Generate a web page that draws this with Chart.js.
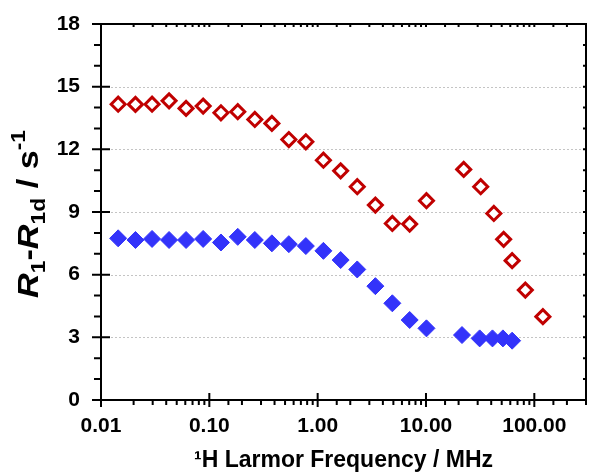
<!DOCTYPE html>
<html><head><meta charset="utf-8">
<script src="https://cdn.jsdelivr.net/npm/chart.js@4.4.0/dist/chart.umd.min.js"></script>
<style>html,body{margin:0;padding:0;background:#fff}#wrap{width:596px;height:474px}</style>
</head><body><div id="wrap"><canvas id="c" width="596" height="474"></canvas></div>
<script>
// Data
const freqRed = [0.0144,0.0208,0.0296,0.0425,0.061,0.0877,0.128,0.183,0.263,0.378,0.542,0.778,1.13,1.63,2.32,3.41,4.89,7.07,10.1,22.3,32,42.3,52.1,62.4,82.6,120];
const r1Red   = [14.16,14.15,14.16,14.32,13.96,14.07,13.75,13.8,13.43,13.24,12.47,12.36,11.48,10.97,10.21,9.33,8.45,8.42,9.54,11.04,10.21,8.93,7.69,6.67,5.26,3.99];
const freqBlue = [0.0144,0.0208,0.0296,0.0425,0.061,0.0877,0.128,0.183,0.263,0.378,0.542,0.778,1.13,1.63,2.32,3.41,4.89,7.07,10.1,21.5,31.3,41.1,51.3,62.4];
const r1Blue   = [7.74,7.66,7.71,7.66,7.66,7.71,7.54,7.81,7.66,7.50,7.46,7.37,7.14,6.70,6.25,5.45,4.63,3.83,3.43,3.11,2.95,2.95,2.95,2.84];
const xTickLabels = ['0.01','0.10','1.00','10.00','100.00'];
const yTickLabels = ['0','3','6','9','12','15','18'];
const xTitle = '\u00B9H Larmor Frequency / MHz';

const FONT = '"Liberation Sans", Arial, sans-serif';

function isMajorLog(v){ const l=Math.log10(v); return Math.abs(l-Math.round(l))<1e-6; }

const framePlugin = {
  id:'frame',
  beforeDatasetsDraw(chart){
    const {ctx, chartArea:a, scales:{y}} = chart;
    ctx.save();
    ctx.strokeStyle='#c4c4c4'; ctx.lineWidth=1; ctx.setLineDash([2,2]);
    y.ticks.forEach(t=>{
      if (t.value%3===0 && t.value>0 && t.value<18){
        const py=Math.round(y.getPixelForValue(t.value))+0.5;
        ctx.beginPath(); ctx.moveTo(a.left+10,py); ctx.lineTo(a.right-2,py); ctx.stroke();
      }
    });
    ctx.restore();
  },
  afterDatasetsDraw(chart){
    const {ctx, chartArea:a, scales:{x,y}} = chart;
    ctx.save();
    ctx.strokeStyle='#000'; ctx.lineWidth=2; ctx.setLineDash([]);
    ctx.beginPath();
    ctx.rect(a.left, a.top, a.right-a.left, a.bottom-a.top);
    ctx.stroke();
    ctx.beginPath();
    y.ticks.forEach(t=>{
      const py=y.getPixelForValue(t.value);
      if (t.value%3===0){ ctx.moveTo(a.left-9,py); ctx.lineTo(a.left+9,py); }
      else { ctx.moveTo(a.left-7,py); ctx.lineTo(a.left,py); }
      ctx.moveTo(a.right,py); ctx.lineTo(a.right-3,py);
    });
    x.ticks.forEach(t=>{
      const px=x.getPixelForValue(t.value);
      if (isMajorLog(t.value)){ ctx.moveTo(px,a.bottom-7); ctx.lineTo(px,a.bottom+7); }
      else { ctx.moveTo(px,a.bottom); ctx.lineTo(px,a.bottom+5); }
      ctx.moveTo(px,a.top); ctx.lineTo(px,a.top+3);
    });
    ctx.stroke();
    ctx.restore();
  },
  afterDraw(chart){
    const {ctx} = chart;
    const segs = [
      {t:'R', f:'italic bold 30px', dy:0},
      {t:'1', f:'bold 20px', dy:7},
      {t:'-', f:'bold 30px', dy:0},
      {t:'R', f:'italic bold 30px', dy:0},
      {t:'1d', f:'bold 20px', dy:7},
      {t:' / s', f:'bold 30px', dy:0},
      {t:'-1', f:'bold 20px', dy:-13}
    ];
    ctx.save();
    let total=0;
    segs.forEach(s=>{ ctx.font=s.f+' '+FONT; s.w=ctx.measureText(s.t).width; total+=s.w; });
    const cy=214, cx=38;
    ctx.translate(cx,cy); ctx.rotate(-Math.PI/2); ctx.scale(1.14,1);
    ctx.fillStyle='#000'; ctx.textBaseline='alphabetic'; ctx.textAlign='left';
    let xx=-total/2;
    segs.forEach(s=>{ ctx.font=s.f+' '+FONT; ctx.fillText(s.t,xx,s.dy); xx+=s.w; });
    ctx.restore();
  }
};

new Chart(document.getElementById('c'), {
  type:'scatter',
  data:{
    datasets:[
      {label:'blue', data:freqBlue.map((f,i)=>({x:f,y:r1Blue[i]})), pointStyle:'rectRot', pointRadius:8.5, backgroundColor:'#3333FA', borderColor:'#3333FA', borderWidth:1},
      {label:'red', data:freqRed.map((f,i)=>({x:f,y:r1Red[i]})), pointStyle:'rectRot', pointRadius:7, backgroundColor:'#ffffff', borderColor:'#C00000', borderWidth:3}
    ]
  },
  options:{
    responsive:false, animation:false, devicePixelRatio:1,
    layout:{padding:{top:24,right:3,left:0,bottom:0}},
    plugins:{legend:{display:false}, tooltip:{enabled:false}},
    scales:{
      x:{type:'logarithmic', min:0.01, max:300, position:'bottom',
        afterFit(s){ s.height=74; s.paddingLeft=0; s.paddingRight=0; },
        grid:{display:false, drawTicks:false}, border:{display:false},
        ticks:{autoSkip:false, maxRotation:0, padding:14, color:'#000',
          font:{family:FONT,size:21,weight:'bold'},
          callback(v){ if(!isMajorLog(v)) return ''; const i=Math.round(Math.log10(v))+2; return xTickLabels[i]||''; }},
        title:{display:true, text:xTitle, color:'#000', font:{family:FONT,size:23,weight:'bold'}, padding:{top:2,bottom:0}}
      },
      y:{type:'linear', min:0, max:18,
        afterFit(s){ s.width=101; s.paddingTop=0; s.paddingBottom=0; },
        grid:{display:false, drawTicks:false}, border:{display:false},
        ticks:{stepSize:1, autoSkip:false, padding:21, color:'#000',
          font:{family:FONT,size:21,weight:'bold'},
          callback(v){ return v%3===0 ? yTickLabels[v/3] : ''; }}
      }
    }
  },
  plugins:[framePlugin]
});
</script></body></html>
